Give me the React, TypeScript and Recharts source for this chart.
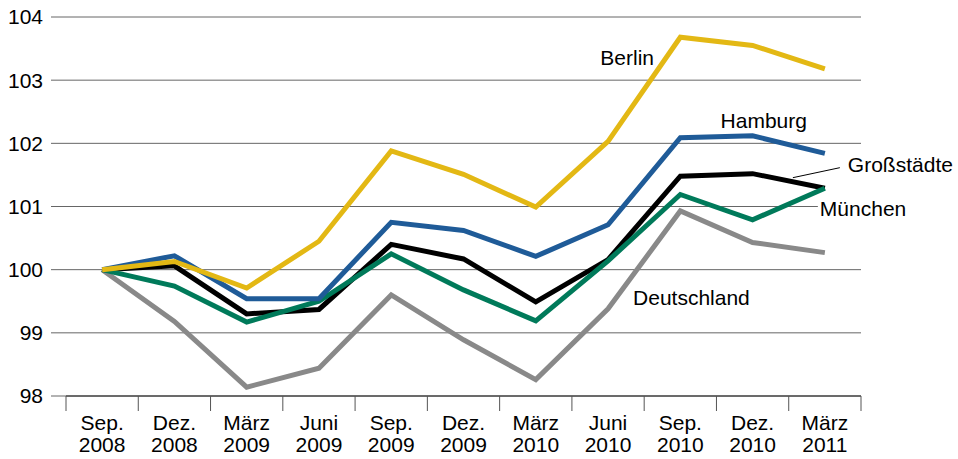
import React from 'react';
import { LineChart, Line, XAxis, YAxis, CartesianGrid } from 'recharts';

const months = ['Sep.', 'Dez.', 'März', 'Juni', 'Sep.', 'Dez.', 'März', 'Juni', 'Sep.', 'Dez.', 'März'];
const years = ['2008', '2008', '2009', '2009', '2009', '2009', '2010', '2010', '2010', '2010', '2011'];

const berlin = [100, 100.13, 99.71, 100.45, 101.88, 101.51, 100.99, 102.03, 103.68, 103.55, 103.18];
const hamburg = [100, 100.22, 99.54, 99.54, 100.75, 100.62, 100.21, 100.71, 102.09, 102.12, 101.84];
const grossstaedte = [100, 100.06, 99.3, 99.37, 100.4, 100.17, 99.49, 100.16, 101.48, 101.52, 101.29];
const muenchen = [100, 99.74, 99.17, 99.5, 100.25, 99.68, 99.19, 100.14, 101.19, 100.79, 101.29];
const deutschland = [100, 99.18, 98.14, 98.44, 99.6, 98.89, 98.26, 99.38, 100.93, 100.43, 100.27];

const yTicks = [98, 99, 100, 101, 102, 103, 104];

const data = months.map((m, i) => ({
  key: `${m} ${years[i]}`,
  berlin: berlin[i],
  hamburg: hamburg[i],
  gross: grossstaedte[i],
  muenchen: muenchen[i],
  deutschland: deutschland[i],
}));

const FONT = '"Liberation Sans", Arial, sans-serif';
const PLOT_W = 795;
const HALF_BAND = PLOT_W / months.length / 2;

const CatTick = (props: any) => {
  const { x, y, index } = props;
  const last = index === months.length - 1;
  return (
    <g>
      <line x1={x - HALF_BAND} y1={y} x2={x - HALF_BAND} y2={y + 15} stroke="#555" strokeWidth={1} />
      {last && <line x1={x + HALF_BAND} y1={y} x2={x + HALF_BAND} y2={y + 15} stroke="#555" strokeWidth={1} />}
      <text textAnchor="middle" fontSize={21} fill="#000" fontFamily={FONT}>
        <tspan x={x} y={y + 34}>{months[index]}</tspan>
        <tspan x={x} y={y + 56}>{years[index]}</tspan>
      </text>
    </g>
  );
};

const makeLabel = (text: string, idx: number, dx: number, dy: number, extra?: 'leader' | 'bg') => (props: any) => {
  const { x, y, index } = props;
  if (index !== idx || x == null || y == null) return null;
  return (
    <g>
      {extra === 'leader' && (
        <line x1={x - 32} y1={y - 10.5} x2={x + 15} y2={y - 20.5} stroke="#000" strokeWidth={1} />
      )}
      {extra === 'bg' && <rect x={x + dx - 2} y={y + dy - 17} width={90} height={21} fill="#fff" />}
      <text x={x + dx} y={y + dy} fontSize={21} fill="#000" fontFamily={FONT} textAnchor="start">
        {text}
      </text>
    </g>
  );
};

export default function App() {
  return (
    <div style={{ position: 'absolute', left: 0, top: 0, width: 958, height: 459, background: '#fff' }}>
      <LineChart width={958} height={459} data={data} margin={{ top: 17, right: 97, bottom: 0, left: 0 }}>
        <CartesianGrid vertical={false} stroke="#666" />
        <YAxis
          domain={[98, 104]}
          ticks={yTicks}
          width={66}
          tickSize={15}
          tickMargin={8}
          axisLine={false}
          tickLine={{ stroke: '#666' }}
          tick={{ fontSize: 21, fill: '#000', fontFamily: FONT }}
          interval={0}
        />
        <XAxis
          dataKey="key"
          height={63}
          padding={{ left: HALF_BAND, right: HALF_BAND }}
          axisLine={{ stroke: '#222' }}
          tickLine={false}
          tickSize={0}
          tickMargin={0}
          interval={0}
          tick={<CatTick />}
        />
        <Line dataKey="deutschland" stroke="#898989" strokeWidth={5} dot={false} isAnimationActive={false}
          label={makeLabel('Deutschland', 7, 25, -4)} />
        <Line dataKey="gross" stroke="#000" strokeWidth={5} dot={false} isAnimationActive={false}
          label={makeLabel('Großstädte', 10, 23, -16, 'leader')} />
        <Line dataKey="muenchen" stroke="#007A5A" strokeWidth={5} dot={false} isAnimationActive={false}
          label={makeLabel('München', 10, -5, 28, 'bg')} />
        <Line dataKey="hamburg" stroke="#1F5B98" strokeWidth={5} dot={false} isAnimationActive={false}
          label={makeLabel('Hamburg', 9, -32, -8)} />
        <Line dataKey="berlin" stroke="#E3B814" strokeWidth={5} dot={false} isAnimationActive={false}
          label={makeLabel('Berlin', 8, -80, 28)} />
      </LineChart>
    </div>
  );
}
